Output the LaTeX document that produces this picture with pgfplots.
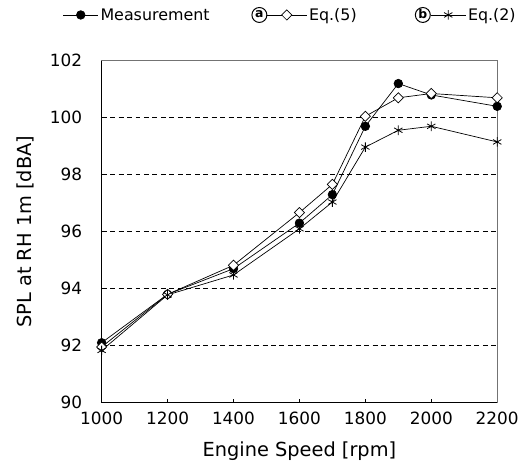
\documentclass[border=0pt]{standalone}
\usepackage{pgfplots}
\pgfplotsset{compat=1.18}
\usepackage{fontspec}
\setmainfont{DejaVu Sans}

% legend pictures: plain line, and lines preceded by a circled letter
\pgfplotsset{
  legplain/.style={legend image code/.code={%
    \draw[mark repeat=2,mark phase=2,##1] plot coordinates {(0bp,0bp) (17.5bp,0bp) (35bp,0bp)};}},
  legA/.style={legend image code/.code={%
    \node[circle, draw, line width=1pt, inner sep=0pt, minimum size=15bp,
          font=\fontsize{12.5}{12.5}\selectfont\bfseries] at (-7.5bp,0bp) {a};
    \draw[mark repeat=2,mark phase=2,##1] plot coordinates {(0bp,0bp) (20bp,0bp) (40bp,0bp)};}},
  legB/.style={legend image code/.code={%
    \path (-32bp,0bp);
    \node[circle, draw, line width=1pt, inner sep=0pt, minimum size=15bp,
          font=\fontsize{12.5}{12.5}\selectfont\bfseries] at (-8bp,0bp) {b};
    \draw[mark repeat=2,mark phase=2,##1] plot coordinates {(0bp,0bp) (17.5bp,0bp) (35bp,0bp)};}},
}

\begin{document}
\begin{tikzpicture}
\begin{axis}[
    scale only axis,
    width=397bp, height=343bp,
    xmin=1000, xmax=2200, ymin=90, ymax=102,
    xtick={1000,1200,...,2200}, ytick={90,92,...,102},
    tick align=inside, tick pos=left, major tick length=4bp,
    tick style={black, line width=0.6pt},
    ymajorgrids,
    grid style={black, dash pattern=on 5bp off 3.5bp, line width=0.7pt},
    axis line style={draw=black!55, line width=0.6pt},
    tick label style={font=\fontsize{17}{20}\selectfont},
    /pgf/number format/assume math mode=true,
    /pgf/number format/1000 sep={},
    scaled ticks=false,
    xticklabel style={yshift=-6bp},
    yticklabel style={xshift=-16bp},
    xlabel={Engine Speed [rpm]},
    ylabel={SPL at RH 1m [dBA]},
    label style={font=\fontsize{19.5}{22}\selectfont},
    xlabel style={at={(rel axis cs:0.5,0)}, anchor=center, yshift=-49bp},
    ylabel style={at={(rel axis cs:-0.161,0.5)}, anchor=south},
    clip=false,
    legend columns=3,
    legend style={draw=none, fill=none, inner sep=0pt,
        at={(rel axis cs:-0.0982,1.134)}, anchor=west,
        font=\fontsize{16}{18}\selectfont,
        /tikz/every even column/.append style={column sep=40bp}},
  ]
  % page size and the heavy left / bottom axis lines
  \path (rel axis cs:-0.2569,-0.1924) (rel axis cs:1.0579,1.1778);
  \draw[black, line width=1.5pt] (rel axis cs:0,1) -- (rel axis cs:0,0);
  \draw[black, line width=1pt] (rel axis cs:0,0) -- (rel axis cs:1,0);

  \addplot[black, line width=0.7pt, mark=*, mark size=4.3bp,
      mark options={fill=black}, legplain]
    coordinates {
    (1000,92.1) (1200,93.8) (1400,94.7) (1600,96.3) (1700,97.3)
    (1800,99.7) (1900,101.2) (2000,100.8) (2200,100.4)
  };
  \addlegendentry{Measurement}

  \addplot[black, line width=0.7pt, mark=square*, mark size=3.6bp,
      mark options={fill=white, rotate=45}, legA]
    coordinates {
    (1000,91.95) (1200,93.8) (1400,94.82) (1600,96.67) (1700,97.66)
    (1800,100.05) (1900,100.7) (2000,100.85) (2200,100.7)
  };
  \addlegendentry{Eq.(5)}

  \addplot[black, line width=0.7pt, mark=asterisk, mark size=4.8bp,
      mark options={line width=0.8pt}, legB]
    coordinates {
    (1000,91.83) (1200,93.78) (1400,94.48) (1600,96.1) (1700,97.04)
    (1800,98.97) (1900,99.56) (2000,99.7) (2200,99.15)
  };
  \addlegendentry{Eq.(2)}
\end{axis}
\end{tikzpicture}
\end{document}
